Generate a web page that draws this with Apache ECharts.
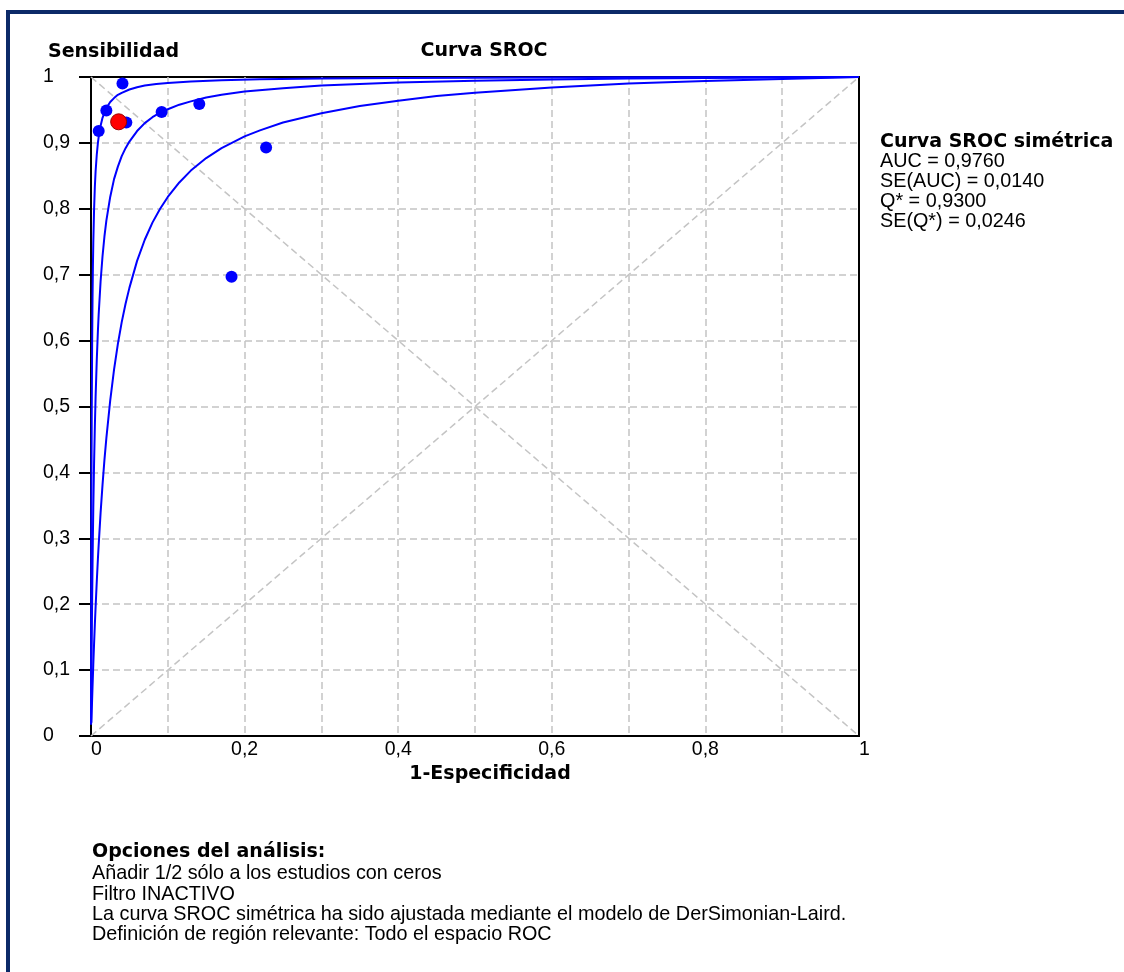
<!DOCTYPE html>
<html>
<head>
<meta charset="utf-8">
<title>Curva SROC</title>
<script src="https://cdn.jsdelivr.net/npm/echarts@6/dist/echarts.min.js"></script>
<style>
  html, body { margin: 0; padding: 0; background: #ffffff; }
  #chart { width: 1124px; height: 972px; }
</style>
</head>
<body>
<div id="chart"></div>
<script>
// Tick labels (decimal comma)
const xTickLabels = ['0', '', '0,2', '', '0,4', '', '0,6', '', '0,8', '', '1'];
const yTickLabels = ['0', '0,1', '0,2', '0,3', '0,4', '0,5', '0,6', '0,7', '0,8', '0,9', '1'];

// Individual studies: [1-Especificidad, Sensibilidad]
const studies = [
  [0.010, 0.918], [0.020, 0.949], [0.041, 0.990], [0.046, 0.931],
  [0.092, 0.947], [0.141, 0.959], [0.228, 0.893], [0.183, 0.697]
];
// Pooled point
const pooled = [[0.036, 0.932]];

// Symmetric SROC curve
const srocMid = [
  [0.0001, 0.017], [0.0003, 0.050], [0.0005, 0.081], [0.00075, 0.117], [0.001, 0.150],
  [0.0015, 0.209], [0.002, 0.260], [0.0025, 0.306], [0.003, 0.346], [0.004, 0.414],
  [0.005, 0.469], [0.006, 0.515], [0.0075, 0.570], [0.009, 0.615], [0.01, 0.640],
  [0.0125, 0.690], [0.015, 0.728], [0.0175, 0.758], [0.02, 0.782], [0.025, 0.818],
  [0.03, 0.845], [0.035, 0.864], [0.04, 0.880], [0.045, 0.892], [0.05, 0.902],
  [0.06, 0.918], [0.07, 0.930], [0.08, 0.939], [0.09, 0.946], [0.1, 0.951],
  [0.115, 0.958], [0.13, 0.963], [0.15, 0.969], [0.17, 0.973], [0.2, 0.978],
  [0.25, 0.983], [0.3, 0.987], [0.35, 0.9895], [0.4, 0.9915], [0.5, 0.9943],
  [0.6, 0.9962], [0.7, 0.9976], [0.8, 0.9986], [0.9, 0.9994], [1, 1]
];
// Upper bounding curve
const srocUpper = [
  [0.00002, 0.0195], [0.00005, 0.047], [0.0001, 0.090], [0.00015, 0.130], [0.0002, 0.166],
  [0.0003, 0.229], [0.0004, 0.284], [0.0005, 0.332], [0.00075, 0.427], [0.001, 0.498],
  [0.0015, 0.598], [0.002, 0.665], [0.0025, 0.713], [0.003, 0.749], [0.004, 0.799],
  [0.005, 0.833], [0.006, 0.857], [0.0075, 0.882], [0.009, 0.900], [0.01, 0.909],
  [0.0125, 0.926], [0.015, 0.938], [0.0175, 0.946], [0.02, 0.953], [0.025, 0.962],
  [0.03, 0.968], [0.035, 0.973], [0.04, 0.976], [0.05, 0.981], [0.06, 0.9845],
  [0.07, 0.987], [0.085, 0.9893], [0.1, 0.991], [0.13, 0.9933], [0.17, 0.9951],
  [0.22, 0.9964], [0.3, 0.9977], [0.4, 0.9985], [0.5, 0.999], [0.7, 0.9996], [1, 1]
];
// Lower bounding curve
const srocLower = [
  [0.0005, 0.020], [0.001, 0.039], [0.0015, 0.057], [0.002, 0.075], [0.003, 0.109],
  [0.004, 0.140], [0.005, 0.169], [0.006, 0.196], [0.0075, 0.234], [0.009, 0.269],
  [0.01, 0.290], [0.0125, 0.339], [0.015, 0.381], [0.0175, 0.419], [0.02, 0.452],
  [0.025, 0.509], [0.03, 0.556], [0.035, 0.595], [0.04, 0.628], [0.045, 0.656],
  [0.05, 0.680], [0.06, 0.721], [0.07, 0.753], [0.08, 0.779], [0.09, 0.800],
  [0.1, 0.818], [0.115, 0.840], [0.13, 0.858], [0.15, 0.877], [0.17, 0.892],
  [0.2, 0.910], [0.22, 0.919], [0.25, 0.931], [0.3, 0.945], [0.35, 0.956],
  [0.4, 0.964], [0.45, 0.971], [0.5, 0.976], [0.6, 0.984], [0.7, 0.990],
  [0.8, 0.994], [0.9, 0.997], [1, 1]
];

// Reference diagonals
const diagAsc = [[0, 0], [1, 1]];
const diagDesc = [[0, 1], [1, 0]];

// Text blocks
const statsTitle = 'Curva SROC simétrica';
const statsLines = ['AUC = 0,9760', 'SE(AUC) = 0,0140', 'Q* = 0,9300', 'SE(Q*) = 0,0246'];
const optionsTitle = 'Opciones del análisis:';
const optionsLines = [
  'Añadir 1/2 sólo a los estudios con ceros',
  'Filtro INACTIVO',
  'La curva SROC simétrica ha sido ajustada mediante el modelo de DerSimonian-Laird.',
  'Definición de región relevante: Todo el espacio ROC'
];

const BOLD = 'DejaVu Sans';
const REG = 'Liberation Sans';
const gridDash = { color: '#c4c4c4', width: 1.5, type: [7, 4] };
const curveStyle = { color: '#0000ff', width: 2 };

function txt(x, y, text, opts) {
  return {
    type: 'text', x: x, y: y, silent: true,
    style: Object.assign({
      text: text, fill: '#000', fontFamily: REG, fontSize: 19.8,
      align: 'left', verticalAlign: 'middle'
    }, opts || {})
  };
}

const graphics = [
  { type: 'rect', silent: true, shape: { x: 8, y: 12, width: 1140, height: 990 },
    style: { fill: 'none', stroke: '#0c2a68', lineWidth: 4 } },
  txt(48, 52, 'Sensibilidad', { fontFamily: BOLD, fontWeight: 'bold', fontSize: 19 }),
  txt(484, 51, 'Curva SROC', { fontFamily: BOLD, fontWeight: 'bold', fontSize: 19, align: 'center' }),
  txt(490, 774, '1-Especificidad', { fontFamily: BOLD, fontWeight: 'bold', fontSize: 19, align: 'center' }),
  txt(880, 142, statsTitle, { fontFamily: BOLD, fontWeight: 'bold', fontSize: 19 }),
  txt(92, 852, optionsTitle, { fontFamily: BOLD, fontWeight: 'bold', fontSize: 19 })
];
statsLines.forEach((s, i) => graphics.push(txt(880, 162 + i * 19.7, s)));
optionsLines.forEach((s, i) => graphics.push(txt(92, 874 + i * 20.2, s)));

const chart = echarts.init(document.getElementById('chart'), null, { renderer: 'canvas' });
chart.setOption({
  animation: false,
  backgroundColor: '#ffffff',
  grid: { left: 91, top: 77, width: 768, height: 659, show: true,
          borderColor: '#000', borderWidth: 2, backgroundColor: 'transparent' },
  xAxis: {
    type: 'value', min: 0, max: 1, interval: 0.1,
    axisLine: { show: true, onZero: false, lineStyle: { color: '#000', width: 2 } },
    axisTick: { show: false },
    axisLabel: {
      color: '#000', fontFamily: REG, fontSize: 19.5, margin: 4,
      alignMinLabel: 'left', alignMaxLabel: 'left',
      formatter: v => xTickLabels[Math.round(v * 10)]
    },
    splitLine: { show: true, showMinLine: false, showMaxLine: false, lineStyle: gridDash }
  },
  yAxis: {
    type: 'value', min: 0, max: 1, interval: 0.1,
    axisLine: { show: true, onZero: false, lineStyle: { color: '#000', width: 2 } },
    axisTick: { show: true, length: 12, lineStyle: { color: '#000', width: 2 } },
    axisLabel: {
      color: '#000', fontFamily: REG, fontSize: 19.5, margin: 48, align: 'left',
      formatter: v => yTickLabels[Math.round(v * 10)]
    },
    splitLine: { show: true, showMinLine: false, showMaxLine: false, lineStyle: gridDash }
  },
  series: [
    { type: 'line', data: diagAsc, symbol: 'none', silent: true, z: 1, lineStyle: gridDash },
    { type: 'line', data: diagDesc, symbol: 'none', silent: true, z: 1, lineStyle: gridDash },
    { type: 'line', data: srocLower, symbol: 'none', z: 3, lineStyle: curveStyle },
    { type: 'line', data: srocMid, symbol: 'none', z: 3, lineStyle: curveStyle },
    { type: 'line', data: srocUpper, symbol: 'none', z: 3, lineStyle: curveStyle },
    { type: 'scatter', data: studies, symbol: 'circle', symbolSize: 12, z: 4,
      itemStyle: { color: '#0000ff', opacity: 1 } },
    { type: 'scatter', data: pooled, symbol: 'circle', symbolSize: 16, z: 5,
      itemStyle: { color: '#ff0000', opacity: 1, borderColor: '#9a0000', borderWidth: 1 } }
  ],
  graphic: graphics
});
</script>
</body>
</html>
